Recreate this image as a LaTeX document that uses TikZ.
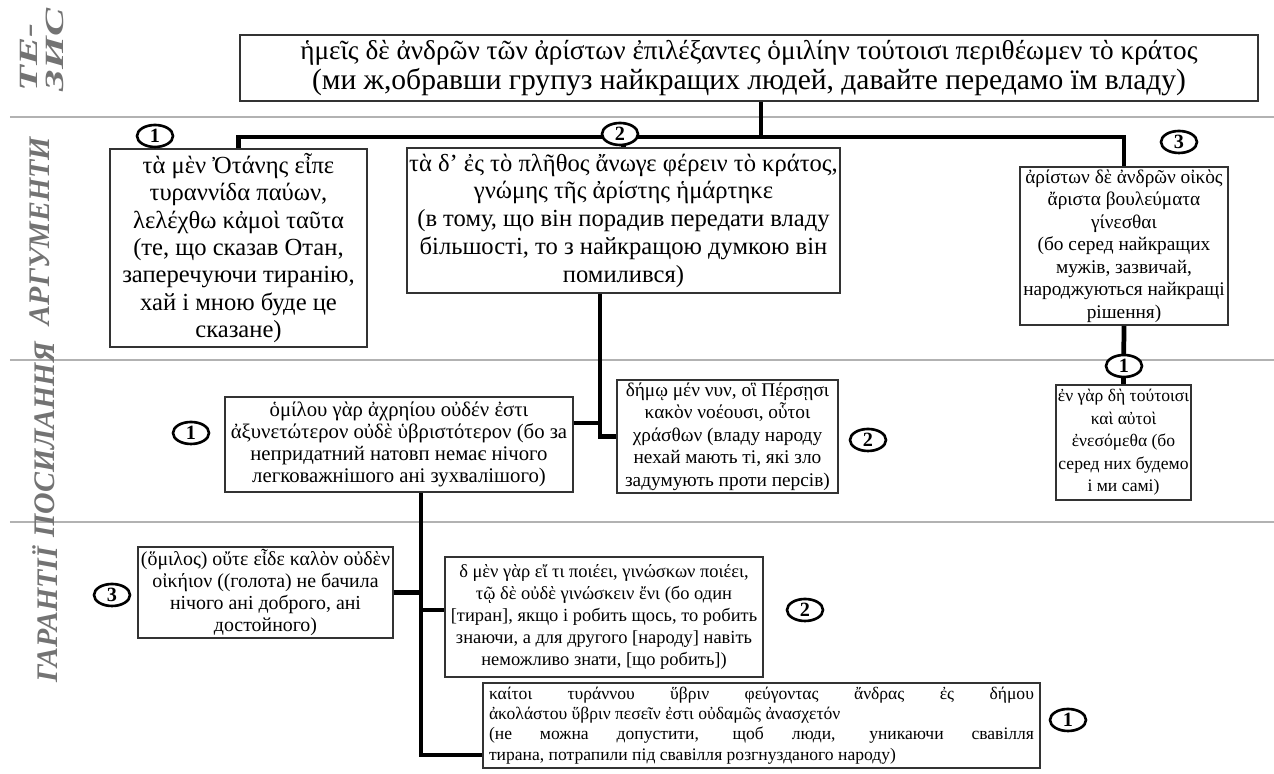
\documentclass[tikz,border=0pt]{standalone}
\usepackage{fontspec}
\setmainfont{Liberation Serif}
\usetikzlibrary{shapes.geometric, calc}
\newcommand{\boxfont}[2]{\fontsize{#1}{#2}\selectfont}
\newcommand{\tall}[1]{\scalebox{1.6}[1]{#1}}
\tikzset{
  txt/.style  = {draw=black!80, line width=1pt, fill=white, align=center,
                 inner sep=1pt},
  link/.style = {line width=2.7pt},
  sep/.style  = {draw=black!30, line width=0.7pt},
  num/.style  = {ellipse, draw, line width=1.5pt, fill=white, inner sep=0pt,
                 minimum width=7.2mm, minimum height=4.4mm,
                 font=\boxfont{11.5}{11.5}\bfseries},
  side/.style = {rotate=90, text=black!55, align=left,
                 font=\boxfont{17}{17}\bfseries\itshape},
}

\begin{document}
\begin{tikzpicture}[x=1cm, y=1cm]
  \useasboundingbox (0,0) rectangle (25.48,15.48);

  % bands
  \draw[sep] (0.2,13.14) -- (25.48,13.14);
  \draw[sep] (0.2,8.28) -- (25.48,8.28);
  \draw[sep] (0.2,5.04) -- (25.48,5.04);

  \node[side, font=\boxfont{15}{14.5}\bfseries\itshape] (lbl-t) at (0.84,14.48)
    {\tall{ТЕ-}\\\tall{ЗИС}};
  \node[side] (lbl-a) at (0.8,10.86) {АРГУМЕНТИ};
  \node[side] (lbl-p) at (0.9,6.68) {ПОСИЛАННЯ};
  \node[side] (lbl-g) at (0.9,3.18) {ГАРАНТІЇ};

  % thesis
  \node[txt, minimum width=20.36cm, minimum height=1.32cm, font=\boxfont{15.5}{17}]
    (thesis) at (14.98,14.12)
    {ἡμεῖς δὲ ἀνδρῶν τῶν ἀρίστων ἐπιλέξαντες ὁμιλίην τούτοισι περιθέωμεν τὸ κράτος\\
     {\boxfont{16.8}{17}(ми ж,обравши групуз найкращих людей, давайте передамо їм владу)}};

  % arguments
  \node[txt, minimum width=5.14cm, minimum height=3.96cm, font=\boxfont{14}{15.6}]
    (a1) at (4.77,10.52)
    {τὰ μὲν Ὀτάνης εἶπε\\ τυραννίδα παύων,\\ λελέχθω κἀμοὶ ταῦτα\\
     (те, що сказав Отан,\\ заперечуючи тиранію,\\ хай і мною буде це\\ сказане)};
  \node[txt, minimum width=8.5cm, minimum height=2.9cm, font=\boxfont{14}{15.8}]
    (a2) at (12.47,11.07)
    {τὰ δ’ ἐς τὸ πλῆθος ἄνωγε φέρειν τὸ κράτος,\\ γνώμης τῆς ἀρίστης ἡμάρτηκε\\
     (в тому, що він порадив передати владу\\ більшості, то з найкращою думкою він\\ помилився)};
  \node[txt, minimum width=4.16cm, minimum height=3.16cm, font=\boxfont{11}{12.8}]
    (a3) at (22.48,10.56)
    {ἀρίστων δὲ ἀνδρῶν οἰκὸς\\ ἄριστα βουλεύματα\\ γίνεσθαι\\
     (бо серед найкращих\\ мужів, зазвичай,\\ народжуються найкращі\\ рішення)};

  % references
  \node[txt, minimum width=6.96cm, minimum height=1.9cm, font=\boxfont{11.8}{12.6}]
    (p1) at (7.98,6.59)
    {ὁμίλου γὰρ ἀχρηίου οὐδέν ἐστι\\ ἀξυνετώτερον οὐδὲ ὑβριστότερον (бо за\\
     непридатний натовп немає нічого\\ легковажнішого ані зухвалішого)};
  \node[txt, minimum width=4.42cm, minimum height=2.26cm, font=\boxfont{11}{12.8}]
    (p2) at (14.55,6.75)
    {δήμῳ μέν νυν, οἳ Πέρσῃσι\\ κακὸν νοέουσι, οὗτοι\\ χράσθων (владу народу\\
     нехай мають ті, які зло\\ задумують проти персів)};
  \node[txt, minimum width=2.46cm, minimum height=2.3cm, font=\boxfont{10}{12.8}]
    (p3) at (22.47,6.63)
    {ἐν γὰρ δὴ τούτοισι\\ καὶ αὐτοὶ\\ ἐνεσόμεθα (бо\\ серед них будемо\\ і ми самі)};

  % guarantees
  \node[txt, minimum width=5.1cm, minimum height=1.82cm, font=\boxfont{11.3}{12.5}]
    (g3) at (5.31,3.63)
    {(ὅμιλος) οὔτε εἶδε καλὸν οὐδὲν\\ οἰκήιον ((голота) не бачила\\
     нічого ані доброго, ані\\ достойного)};
  \node[txt, minimum width=6.36cm, minimum height=2.4cm, font=\boxfont{10.5}{12.5}]
    (g2) at (12.08,3.14)
    {δ μὲν γὰρ εἴ τι ποιέει, γινώσκων ποιέει,\\ τῷ δὲ οὐδὲ γινώσκειν ἔνι (бо один\\
     {}[тиран], якщо і робить щось, то робить\\ знаючи, а для другого [народу] навіть\\
     неможливо знати, [що робить])};
  \node[txt, align=justify, text width=10.9cm, inner xsep=0.12cm, minimum height=1.7cm,
        font=\boxfont{10}{11.6}]
    (g1) at (15.23,0.97)
    {καίτοι τυράννου ὕβριν φεύγοντας ἄνδρας ἐς δήμου\linebreak
     ἀκολάστου ὕβριν πεσεῖν ἐστι οὐδαμῶς ἀνασχετόν\\
     (не можна допустити, щоб люди, уникаючи свавілля\linebreak
     тирана, потрапили під свавілля розгнузданого народу)};

  % connectors
  \coordinate (hub) at (15.22,12.74);
  \coordinate (spine) at (12.0,7.02);
  \coordinate (low) at (8.42,0.38);
  \draw[link] (thesis.south -| hub) -- (hub);
  \draw[link] (a1.north) |- (hub) -| (a3.north);
  \draw[link] (a2.north) -- (a2.north |- hub);
  \draw[link] (a2.south -| spine) |- (p2.west);
  \draw[link] (p1.east |- spine) -- (spine);
  \draw[link] (a3.south) -- (p3.north);
  \draw[link] (p1.south -| low) -- (low) -- (low -| g1.west);
  \draw[link] (g3.east) -- (g3.east -| low);
  \draw[link] ([yshift=1.4mm]g2.west) -- ([yshift=1.4mm]g2.west -| low);

  % numbers
  \node[num] (n-a1) at (3.1,12.76) {1};
  \node[num] (n-a2) at (12.4,12.8) {2};
  \node[num] (n-a3) at (23.58,12.64) {3};
  \node[num] (n-p3) at (22.48,8.16) {1};
  \node[num] (n-p1) at (3.82,6.82) {1};
  \node[num] (n-p2) at (17.36,6.68) {2};
  \node[num] (n-g3) at (2.24,3.58) {3};
  \node[num] (n-g2) at (16.1,3.28) {2};
  \node[num] (n-g1) at (21.36,1.08) {1};
\end{tikzpicture}
\end{document}
